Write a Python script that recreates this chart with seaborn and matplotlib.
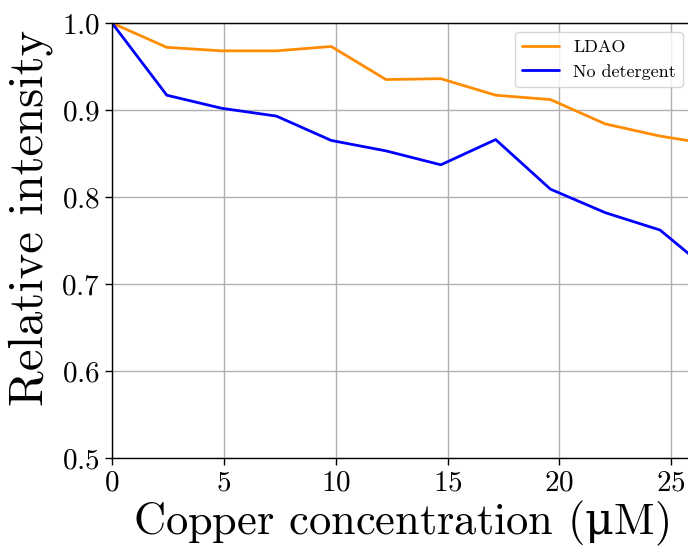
import matplotlib

matplotlib.use("Agg")
import matplotlib.pyplot as plt
import pandas as pd
import seaborn as sns

# copper titration, relative fluorescence intensity
concentration = [0, 2.45, 4.9, 7.35, 9.8, 12.25, 14.7, 17.15, 19.6, 22.05, 24.5, 26.95]
ldao = [1.0, 0.972, 0.968, 0.968, 0.973, 0.935, 0.936, 0.917, 0.912, 0.884, 0.870, 0.860]
no_detergent = [1.0, 0.917, 0.902, 0.893, 0.865, 0.853, 0.837, 0.866, 0.809, 0.782, 0.762, 0.710]
series_names = ["LDAO", "No detergent"]
series_colors = ["darkorange", "blue"]

sns.set_theme(style="ticks", rc={"axes.grid": True})
plt.rcParams["font.family"] = ["cmr10", "DejaVu Serif"]
plt.rcParams["axes.formatter.use_mathtext"] = True
plt.rcParams["mathtext.fontset"] = "custom"
plt.rcParams["mathtext.rm"] = "DejaVu Serif"
plt.rcParams["text.color"] = "black"
plt.rcParams["axes.labelcolor"] = "black"
plt.rcParams["axes.edgecolor"] = "black"
plt.rcParams["grid.color"] = "#b0b0b0"
plt.rcParams["xtick.color"] = "black"
plt.rcParams["ytick.color"] = "black"

df = pd.DataFrame(
    {
        "concentration": concentration * 2,
        "intensity": ldao + no_detergent,
        "condition": [series_names[0]] * len(ldao) + [series_names[1]] * len(no_detergent),
    }
)

fig = plt.figure(figsize=(6.88, 5.48), dpi=100)
ax = fig.add_axes([112 / 688, 1 - 458 / 548, 580 / 688, 435 / 548])

sns.lineplot(
    data=df,
    x="concentration",
    y="intensity",
    hue="condition",
    palette=dict(zip(series_names, series_colors)),
    linewidth=2,
    ax=ax,
)

ax.set_xlim(0, 580 / 22.37)
ax.set_ylim(0.5, 1.0)
ax.set_xticks([0, 5, 10, 15, 20, 25])
ax.set_yticks([0.5, 0.6, 0.7, 0.8, 0.9, 1.0])
ax.tick_params(labelsize=21, direction="out", length=5, width=1)
ax.set_xlabel(r"Copper concentration ($\mathrm{\mu}$M)", fontsize=32)
ax.set_ylabel("Relative intensity", fontsize=35)
ax.xaxis.set_label_coords(0.499, -0.094)
ax.yaxis.set_label_coords(-0.102, 0.553)
for spine in ax.spines.values():
    spine.set_color("black")
    spine.set_linewidth(1)

ax.legend(loc="upper right", fontsize=13, title=None)

fig.savefig("out.png", dpi=100)
